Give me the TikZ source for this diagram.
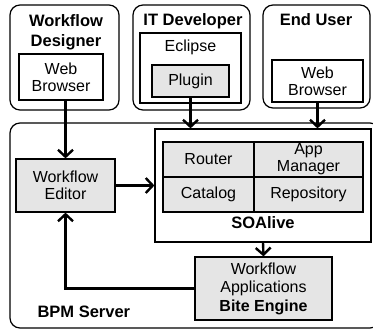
\documentclass[tikz,border=0pt]{standalone}
\usepackage{fontspec}
\setmainfont{Liberation Sans}
\usetikzlibrary{arrows.meta}

\tikzset{
  group/.style={draw,line width=1.2pt,rounded corners=10pt,inner sep=0pt},
  plainbox/.style={draw,line width=1.2pt,inner sep=0pt,align=center,fill=white},
  greybox/.style={plainbox,fill=gray!20},
  title/.style={font=\fontsize{16.5}{20}\selectfont\bfseries,align=center},
  flow/.style={line width=2.4pt,-{Straight Barb[length=7pt,width=15pt]}}
}

\begin{document}
\begin{tikzpicture}[x=1pt,y=-1pt,font=\fontsize{16}{17}\selectfont]
\useasboundingbox (0,0) rectangle (373,332);

% outer groups
\node[group,minimum width=370pt,minimum height=205pt] (bpm) at (195,225.5) {};
\node[group,minimum width=109pt,minimum height=105pt] (designer) at (64.5,57.5) {};
\node[group,minimum width=117pt,minimum height=105pt] (developer) at (191.5,57.5) {};
\node[group,minimum width=107pt,minimum height=103pt] (enduser) at (316.5,56.5) {};

\node[title] (designerlbl) at (66,32) {Workflow\\Designer};
\node[title] (developerlbl) at (193,21) {IT Developer};
\node[title] (enduserlbl) at (316,20) {End User};
\node[title,anchor=west] (bpmlbl) at (34,312) {BPM Server};

% client side
\node[plainbox,minimum width=84pt,minimum height=46pt] (wdbrowser) at (61,77) {Web\\Browser};
\node[plainbox,minimum width=101pt,minimum height=70pt] (eclipse) at (190.5,68) {};
\node (eclipselbl) at (190.5,47) {Eclipse};
\node[greybox,minimum width=77pt,minimum height=32pt] (plugin) at (190.5,81) {Plugin};
\node[plainbox,minimum width=91pt,minimum height=42pt] (eubrowser) at (317.5,81) {Web\\Browser};

% server side
\node[greybox,minimum width=99pt,minimum height=53pt] (we) at (65.5,185.5) {Workflow\\Editor};
\node[plainbox,minimum width=216pt,minimum height=113pt] (soa) at (263,185.5) {};
\begin{scope}[every node/.style={greybox,minimum height=35pt}]
  \node[minimum width=91pt] (router) at (208.5,159.5) {Router};
  \node[minimum width=109pt] (appmgr) at (308.5,159.5) {App\\Manager};
  \node[minimum width=91pt] (catalog) at (208.5,194.5) {Catalog};
  \node[minimum width=109pt] (repo) at (308.5,194.5) {Repository};
\end{scope}
\node[title] (soalbl) at (263,223) {SOAlive};
\node[greybox,minimum width=137pt,minimum height=63pt,font=\fontsize{16}{18.5}\selectfont] (wa) at (263.5,288.5)
  {Workflow\\Applications\\\textbf{Bite Engine}};

% connections
\draw[flow] (wdbrowser.south -| we.north) -- (we.north);
\draw[flow] (plugin.south) -- (plugin.south |- soa.north);
\draw[flow] (eubrowser.south) -- (eubrowser.south |- soa.north);
\draw[flow] (we.east) -- (we.east -| soa.west);
\draw[flow] (soa.south) -- (wa.north);
\draw[flow] (wa.west) -| (we.south);
\end{tikzpicture}
\end{document}
